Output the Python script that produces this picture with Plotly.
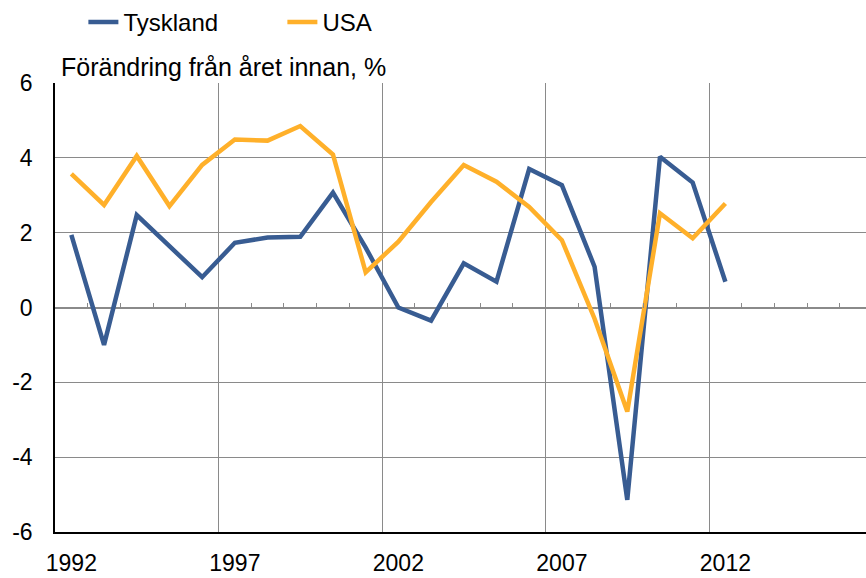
import plotly.graph_objects as go

years = list(range(1992, 2013))
tyskland = [1.94, -1.00, 2.47, 1.65, 0.81, 1.73, 1.87, 1.89, 3.07, 1.60, 0.00, -0.35,
            1.18, 0.69, 3.70, 3.27, 1.09, -5.14, 4.03, 3.34, 0.69]
usa = [3.57, 2.74, 4.05, 2.71, 3.81, 4.49, 4.46, 4.85, 4.09, 0.94, 1.76, 2.82,
       3.81, 3.36, 2.69, 1.80, -0.30, -2.78, 2.52, 1.85, 2.78]
label_years = [1992, 1997, 2002, 2007, 2012]
y_ticks = [-6, -4, -2, 0, 2, 4, 6]

BLUE = "#385C92"
ORANGE = "#FFB02A"
GRID = "#8a8a8a"
FONT = "Liberation Sans, Arial, sans-serif"

x_lo, x_hi = 1991.5, 2016.3
grid_x = [y - 0.5 for y in label_years[1:]]
cat_bounds = [y + 0.5 for y in range(1992, 2017)]

fig = go.Figure()
fig.add_trace(go.Scatter(x=years, y=tyskland, name="Tyskland", mode="lines",
                         line=dict(color=BLUE, width=4.5)))
fig.add_trace(go.Scatter(x=years, y=usa, name="USA", mode="lines",
                         line=dict(color=ORANGE, width=4.5)))
# helper trace for the zero-line tick axis (draws nothing)
fig.add_trace(go.Scatter(x=[None], y=[None], xaxis="x2", showlegend=False,
                         hoverinfo="skip"))

fig.update_layout(
    width=866, height=578,
    margin=dict(l=55, r=0, t=83, b=46),
    paper_bgcolor="white", plot_bgcolor="white",
    font=dict(family=FONT, size=23, color="black"),
    showlegend=True,
    legend=dict(orientation="h", x=0.035, y=1.136, xanchor="left", yanchor="middle",
                font=dict(size=24), entrywidth=154, entrywidthmode="pixels",
                itemwidth=30, bgcolor="rgba(0,0,0,0)"),
    xaxis=dict(range=[x_lo, x_hi], tickvals=label_years, ticktext=[str(v) for v in label_years],
               showgrid=False, showline=True, linecolor="black", linewidth=1.5,
               ticks="", zeroline=False, ticklabelstandoff=10,
               minor=dict(tickvals=grid_x, showgrid=True, gridcolor=GRID, gridwidth=1, ticks="")),
    xaxis2=dict(range=[x_lo, x_hi], overlaying="x", anchor="free", position=0.5,
                side="bottom", tickvals=cat_bounds, ticks="inside", ticklen=5,
                tickcolor=GRID, tickwidth=1, showticklabels=False, showgrid=False,
                showline=False, zeroline=False),
    yaxis=dict(range=[-6, 6], tickvals=y_ticks, ticktext=[str(v) for v in y_ticks],
               showgrid=True, gridcolor=GRID, gridwidth=1,
               showline=True, linecolor="black", linewidth=1.5, ticks="",
               zeroline=True, zerolinecolor=GRID, zerolinewidth=1.5,
               ticklabelstandoff=16),
    annotations=[dict(text="Förändring från året innan, %", xref="paper", yref="paper",
                      x=0.005, y=1.0, xanchor="left", yanchor="bottom", showarrow=False,
                      font=dict(size=25))],
)

fig.write_html("out.html", config={"displayModeBar": False},
               post_script="document.body.style.margin='0';")
